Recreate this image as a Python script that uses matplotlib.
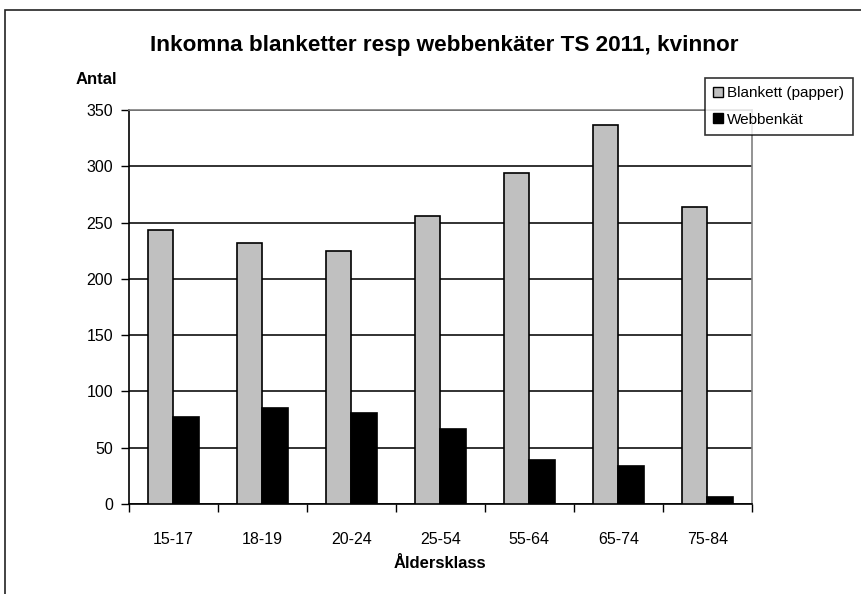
import matplotlib.pyplot as plt
import numpy as np
from matplotlib.patches import Rectangle, Patch

plt.rcParams['font.family'] = ['Liberation Sans', 'DejaVu Sans']

aldersklass = ['15-17', '18-19', '20-24', '25-54', '55-64', '65-74', '75-84']
blankett = [243, 232, 225, 256, 294, 337, 264]
webbenkat = [77, 85, 81, 67, 39, 34, 6]

fig = plt.figure(figsize=(8.62, 5.94), dpi=100)
ax = fig.add_axes([128.5 / 862, 90 / 594, (752 - 128.5) / 862, (504 - 110) / 594])

x = np.arange(len(aldersklass))
w = 0.286
ax.bar(x - w / 2, blankett, w, color='#c0c0c0', edgecolor='black', linewidth=1.2, zorder=3,
       label='Blankett (papper)')
ax.bar(x + w / 2, webbenkat, w, color='black', edgecolor='black', linewidth=1.2, zorder=3,
       label='Webbenkät')

ax.set_xlim(-0.5, len(aldersklass) - 0.5)
ax.set_ylim(0, 350)
ax.set_yticks(range(0, 351, 50))
ax.yaxis.grid(True, color='#222222', linewidth=1.3, zorder=0)
ax.set_xticks(np.arange(-0.5, len(aldersklass), 1.0))
ax.set_xticklabels([])
ax.set_xticks(x, minor=True)
ax.set_xticklabels(aldersklass, minor=True, fontsize=11.5)
ax.tick_params(axis='x', which='minor', length=0, pad=20)
ax.tick_params(axis='x', which='major', length=6, width=1, direction='out')
ax.tick_params(axis='y', length=6, width=1, labelsize=11.5, pad=5)

for s in ['left', 'bottom']:
    ax.spines[s].set_color('black')
    ax.spines[s].set_linewidth(1.2)
for s in ['top', 'right']:
    ax.spines[s].set_color('#808080')
    ax.spines[s].set_linewidth(1.2)

ax.set_xlabel('Åldersklass', fontsize=12, fontweight='bold', labelpad=7)
fig.text(444 / 862, 1 - 45 / 594, 'Inkomna blanketter resp webbenkäter TS 2011, kvinnor',
         ha='center', va='center', fontsize=16.2, fontweight='bold')
fig.text(96 / 862, 1 - 79 / 594, 'Antal', ha='center', va='center', fontsize=12, fontweight='bold')

handles = [Patch(facecolor='#c0c0c0', edgecolor='black', linewidth=1),
           Patch(facecolor='black', edgecolor='black', linewidth=1)]
leg = fig.legend(handles, ['Blankett (papper)', 'Webbenkät'], loc='upper left',
                 bbox_to_anchor=(705 / 862, 1 - 78 / 594), fontsize=11,
                 frameon=True, fancybox=False, handlelength=0.6, handleheight=0.6,
                 handletextpad=0.3, labelspacing=0.8, borderpad=0.55, borderaxespad=0)
leg.get_frame().set_edgecolor('black')
leg.get_frame().set_linewidth(1.2)

fig.add_artist(Rectangle((5 / 862, -0.1), 1.0, 1.1 - 10 / 594, transform=fig.transFigure,
                         fill=False, edgecolor='#222222', linewidth=1.2))

fig.savefig('out.png', dpi=100)
